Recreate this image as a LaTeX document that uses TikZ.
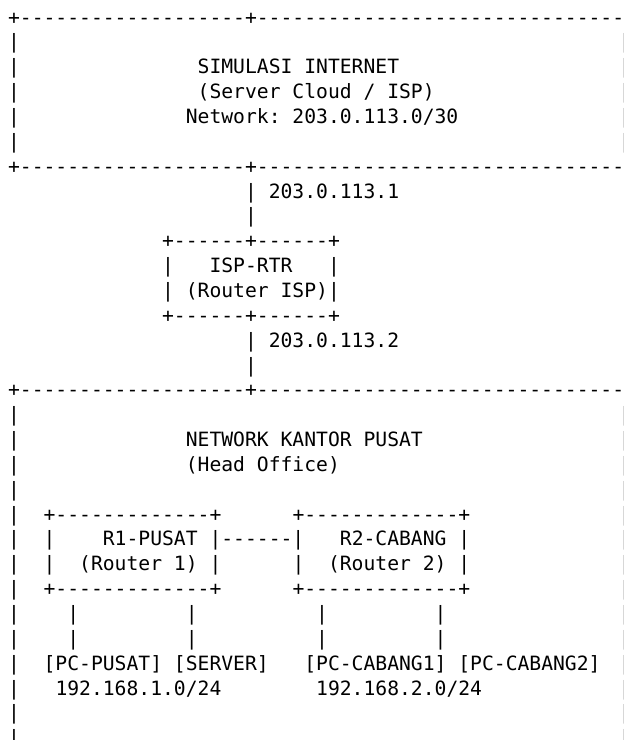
\documentclass[tikz,border=0pt]{standalone}
\usepackage{fontspec}
\newfontfamily\asciifont[Ligatures=TeXOff]{DejaVu Sans Mono}
\frenchspacing
\newcommand\dsh[1]{\ifnum#1>0 -\expandafter\dsh\expandafter{\the\numexpr#1-1\relax}\fi}
\newcommand\ascii[4]{\node[txt] (#1) at ({8.1+11.85*(#3)},{-24.1-24.85*(#2)}) {#4};}
\begin{document}
\begin{tikzpicture}[x=1pt,y=1pt,
  txt/.style={anchor=base west,inner sep=0pt,outer sep=0pt,
    font=\asciifont\fontsize{19.68}{24}\selectfont,text=black}]
\fill[white] (0,0) rectangle (624,-740);
\useasboundingbox (0,0) rectangle (624,-740);
% side borders
\foreach \r in {1,...,5} {\ascii{lb\r}{\r}{0}{|}\ascii{rb\r}{\r}{51.55}{|}}
\foreach \r in {16,...,29} {\ascii{lb\r}{\r}{0}{|}\ascii{rb\r}{\r}{51.55}{|}}
% internet block
\ascii{inettop}{0}{0}{+\dsh{19}+\dsh{33}}
\ascii{inet1}{2}{16}{SIMULASI INTERNET}
\ascii{inet2}{3}{16}{(Server Cloud / ISP)}
\ascii{inet3}{4}{15}{Network: 203.0.113.0/30}
\ascii{inetbot}{6}{0}{+\dsh{19}+\dsh{33}}
% uplink
\ascii{up1}{7}{20}{|}
\ascii{ipa}{7}{22}{203.0.113.1}
\ascii{up2}{8}{20}{|}
% ISP router
\ascii{isptop}{9}{13}{+\dsh{6}+\dsh{6}+}
\ascii{ispl1}{10}{13}{|}
\ascii{ispname}{10}{17}{ISP-RTR}
\ascii{ispr1}{10}{27}{|}
\ascii{ispl2}{11}{13}{|}
\ascii{ispsub}{11}{15}{(Router ISP)|}
\ascii{ispbot}{12}{13}{+\dsh{6}+\dsh{6}+}
% downlink
\ascii{dn1}{13}{20}{|}
\ascii{ipb}{13}{22}{203.0.113.2}
\ascii{dn2}{14}{20}{|}
% head office block
\ascii{hotop}{15}{0}{+\dsh{19}+\dsh{33}}
\ascii{ho1}{17}{15}{NETWORK KANTOR PUSAT}
\ascii{ho2}{18}{15}{(Head Office)}
% routers
\ascii{ronetop}{20}{3}{+\dsh{13}+}
\ascii{rtwotop}{20}{24}{+\dsh{13}+}
\ascii{ronel1}{21}{3}{|}
\ascii{ronename}{21}{8}{R1-PUSAT}
\ascii{link}{21}{17}{|\dsh{6}|}
\ascii{rtwoname}{21}{28}{R2-CABANG}
\ascii{rtwor1}{21}{38}{|}
\ascii{ronel2}{22}{3}{|}
\ascii{ronesub}{22}{6}{(Router 1)}
\ascii{roner2}{22}{17}{|}
\ascii{rtwol2}{22}{24}{|}
\ascii{rtwosub}{22}{27}{(Router 2)}
\ascii{rtwor2}{22}{38}{|}
\ascii{ronebot}{23}{3}{+\dsh{13}+}
\ascii{rtwobot}{23}{24}{+\dsh{13}+}
% drops
\foreach \r in {24,25} {
  \ascii{da\r}{\r}{5}{|}
  \ascii{db\r}{\r}{15}{|}
  \ascii{dc\r}{\r}{26}{|}
  \ascii{dd\r}{\r}{36}{|}
}
% hosts
\ascii{pcs1}{26}{3}{[PC-PUSAT] [SERVER]}
\ascii{pcs2}{26}{25}{[PC-CABANG1] [PC-CABANG2]}
\ascii{net1}{27}{4}{192.168.1.0/24}
\ascii{net2}{27}{26}{192.168.2.0/24}
\end{tikzpicture}
\end{document}
